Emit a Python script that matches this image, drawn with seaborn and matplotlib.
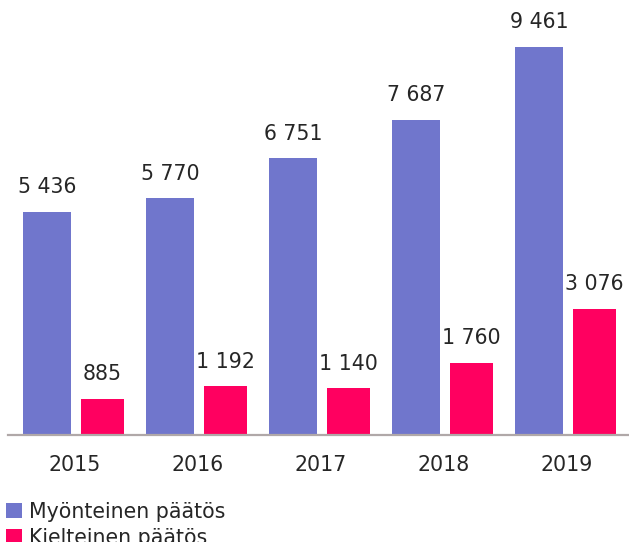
import pandas as pd
import matplotlib
matplotlib.use("Agg")
import matplotlib.pyplot as plt
import seaborn as sns
from matplotlib.patches import Patch

# data
years = ["2015", "2016", "2017", "2018", "2019"]
myonteinen = [5436, 5770, 6751, 7687, 9461]
kielteinen = [885, 1192, 1140, 1760, 3076]
series_names = ["Myönteinen päätös", "Kielteinen päätös"]
colors = ["#7076cc", "#ff0060"]

df = pd.DataFrame({
    "vuosi": years * 2,
    "arvo": myonteinen + kielteinen,
    "sarja": [series_names[0]] * len(years) + [series_names[1]] * len(years),
})

sns.set_style("white")
plt.rcParams["font.family"] = ["DejaVu Sans"]

fig = plt.figure(figsize=(6.29, 5.42), dpi=100)
ax = fig.add_axes([8 / 629, 107 / 542, 621 / 629, 435 / 542])

sns.barplot(data=df, x="vuosi", y="arvo", hue="sarja", palette=colors,
            width=0.8, legend=False, ax=ax, saturation=1)

# purple bars slightly wider than the pink ones
widths = [0.39, 0.35]
offset = 0.2256
for k, cont in enumerate(ax.containers):
    for p in cont.patches:
        c = p.get_x() + p.get_width() / 2
        g = round(c)
        newc = g - offset if k == 0 else g + offset
        p.set_width(widths[k])
        p.set_x(newc - widths[k] / 2)
        p.set_linewidth(0)

def fmt(v):
    return f"{int(v):,}".replace(",", " ")

for cont in ax.containers:
    ax.bar_label(cont, labels=[fmt(v) for v in cont.datavalues],
                 padding=10.5, fontsize=14.8, color="#262626")

ax.set_xlim(-0.543, 4.506)
ax.set_ylim(0, 10607)
ax.set_xlabel("")
ax.set_ylabel("")
ax.set_yticks([])
ax.tick_params(axis="x", length=0, pad=14.5, labelsize=14.8, labelcolor="#262626")
for s in ["top", "right", "left"]:
    ax.spines[s].set_visible(False)
ax.spines["bottom"].set_color("#b0a8a8")
ax.spines["bottom"].set_linewidth(1.6)

handles = [Patch(facecolor=colors[i], edgecolor="none", label=series_names[i]) for i in range(2)]
fig.legend(handles=handles, loc="upper left", bbox_to_anchor=(0.0, 0.086),
           frameon=False, fontsize=14.8, handlelength=0.75, handleheight=0.75,
           handletextpad=0.35, labelspacing=0.3, borderaxespad=0, borderpad=0.3,
           labelcolor="#262626")

fig.savefig("out.png", dpi=100)
